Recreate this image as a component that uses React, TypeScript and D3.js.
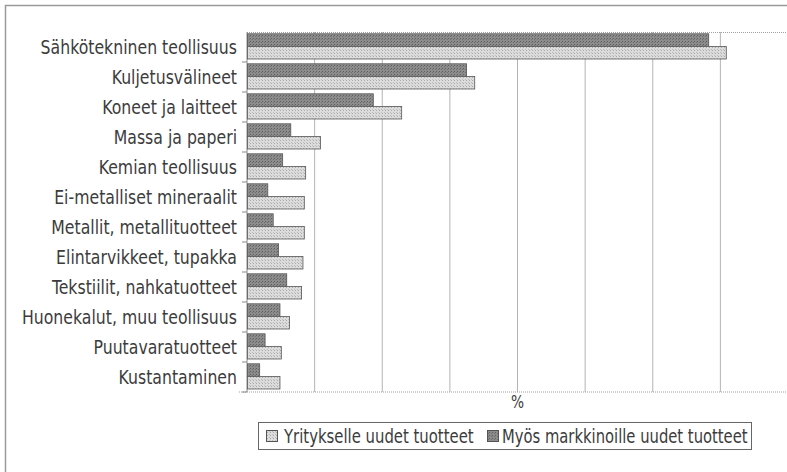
import React from 'react';
import * as d3 from 'd3';

// categories, top to bottom
const categories = [
  'Sähkötekninen teollisuus',
  'Kuljetusvälineet',
  'Koneet ja laitteet',
  'Massa ja paperi',
  'Kemian teollisuus',
  'Ei-metalliset mineraalit',
  'Metallit, metallituotteet',
  'Elintarvikkeet, tupakka',
  'Tekstiilit, nahkatuotteet',
  'Huonekalut, muu teollisuus',
  'Puutavaratuotteet',
  'Kustantaminen',
];

// % of turnover
const markkinoilleUudet = [34.1, 16.2, 9.3, 3.2, 2.6, 1.5, 1.9, 2.3, 2.9, 2.4, 1.3, 0.9];
const yritykselleUudet = [35.4, 16.8, 11.4, 5.4, 4.3, 4.2, 4.2, 4.1, 4.0, 3.1, 2.5, 2.4];

const gridTicks = [5, 10, 15, 20, 25, 30, 35, 40];

const legendLabels = ['Yritykselle uudet tuotteet', 'Myös markkinoille uudet tuotteet'];

const FONT = '"DejaVu Sans Condensed", "Liberation Sans Narrow", sans-serif';

// condensed text helper: squeeze horizontally to mimic the narrow print font
function Narrow(props: { x: number; y: number; sx: number; anchor?: string; size: number; children: any }) {
  return (
    <g transform={`translate(${props.x}, ${props.y}) scale(${props.sx}, 1)`}>
      <text dy="0.35em" textAnchor={props.anchor || 'start'} fontFamily={FONT}
        fontSize={props.size} fill="#3c3c3c">{props.children}</text>
    </g>
  );
}

export default function App() {
  const margin = { top: 32, left: 247 };
  const plotW = 541;
  const plotH = 360;

  const x = d3.scaleLinear().domain([0, 40]).range([0, plotW]);
  const y = d3.scaleBand().domain(categories).range([0, plotH]).paddingInner(0).paddingOuter(0);
  const band = y.bandwidth();
  const barH = band * 0.42;
  const barOff = band * 0.06;

  return (
    <svg width={787} height={472} style={{ display: 'block', position: 'absolute', left: 0, top: 0, background: '#fff' }}>
      <defs>
        <pattern id="darkPat" width="3" height="3" patternUnits="userSpaceOnUse">
          <rect width="3" height="3" fill="#8c8c8c" />
          <rect width="1" height="1" fill="#5e5e5e" />
          <rect x="2" y="1" width="1" height="1" fill="#6e6e6e" />
        </pattern>
        <pattern id="lightPat" width="3" height="3" patternUnits="userSpaceOnUse">
          <rect width="3" height="3" fill="#dcdcdc" />
          <rect width="1" height="1" fill="#aaaaaa" />
          <rect x="2" y="2" width="1" height="1" fill="#bcbcbc" />
        </pattern>
      </defs>

      {/* outer frame */}
      <path d="M5.5,472 V5.5 H787" fill="none" stroke="#9a9a9a" strokeWidth={1.5} />

      <g transform={`translate(${margin.left}, ${margin.top})`}>
        {/* gridlines */}
        {gridTicks.map(t => (
          <line key={t} x1={x(t)} x2={x(t)} y1={0} y2={plotH} stroke="#b4b4b4" strokeWidth={1} />
        ))}
        <line x1={0} x2={plotW} y1={0.5} y2={0.5} stroke="#a0a0a0" strokeDasharray="1,1" />
        <line x1={-8} x2={plotW} y1={plotH} y2={plotH} stroke="#a0a0a0" strokeDasharray="1,1" />
        <line x1={0} x2={0} y1={0} y2={plotH} stroke="#8a8a8a" strokeWidth={1} />

        {/* category ticks */}
        {categories.map(c => (
          <line key={c} x1={-5} x2={0} y1={(y(c) || 0) + band} y2={(y(c) || 0) + band} stroke="#8a8a8a" />
        ))}

        {/* bars */}
        {categories.map((c, i) => {
          const y0 = (y(c) || 0) + barOff;
          return (
            <g key={c}>
              <rect x={0.5} y={y0} width={x(markkinoilleUudet[i])} height={barH}
                fill="url(#darkPat)" stroke="#555" strokeWidth={0.8} />
              <rect x={0.5} y={y0 + barH} width={x(yritykselleUudet[i])} height={barH}
                fill="url(#lightPat)" stroke="#555" strokeWidth={0.8} />
            </g>
          );
        })}

        {/* category labels */}
        {categories.map(c => (
          <Narrow key={c} x={-10} y={(y(c) || 0) + band / 2} sx={0.92} anchor="end" size={19}>{c}</Narrow>
        ))}

        <Narrow x={x(20)} y={plotH + 10} sx={0.9} anchor="middle" size={17}>%</Narrow>
      </g>

      {/* legend */}
      <g>
        <rect x={258.5} y={422.5} width={493} height={27} fill="#fff" stroke="#666" strokeWidth={1} />
        <rect x={266.5} y={430.5} width={11} height={11} fill="url(#lightPat)" stroke="#555" />
        <Narrow x={284} y={436} sx={0.87} size={19}>{legendLabels[0]}</Narrow>
        <rect x={487.5} y={430.5} width={11} height={11} fill="url(#darkPat)" stroke="#555" />
        <Narrow x={502} y={436} sx={0.865} size={19}>{legendLabels[1]}</Narrow>
      </g>
    </svg>
  );
}
